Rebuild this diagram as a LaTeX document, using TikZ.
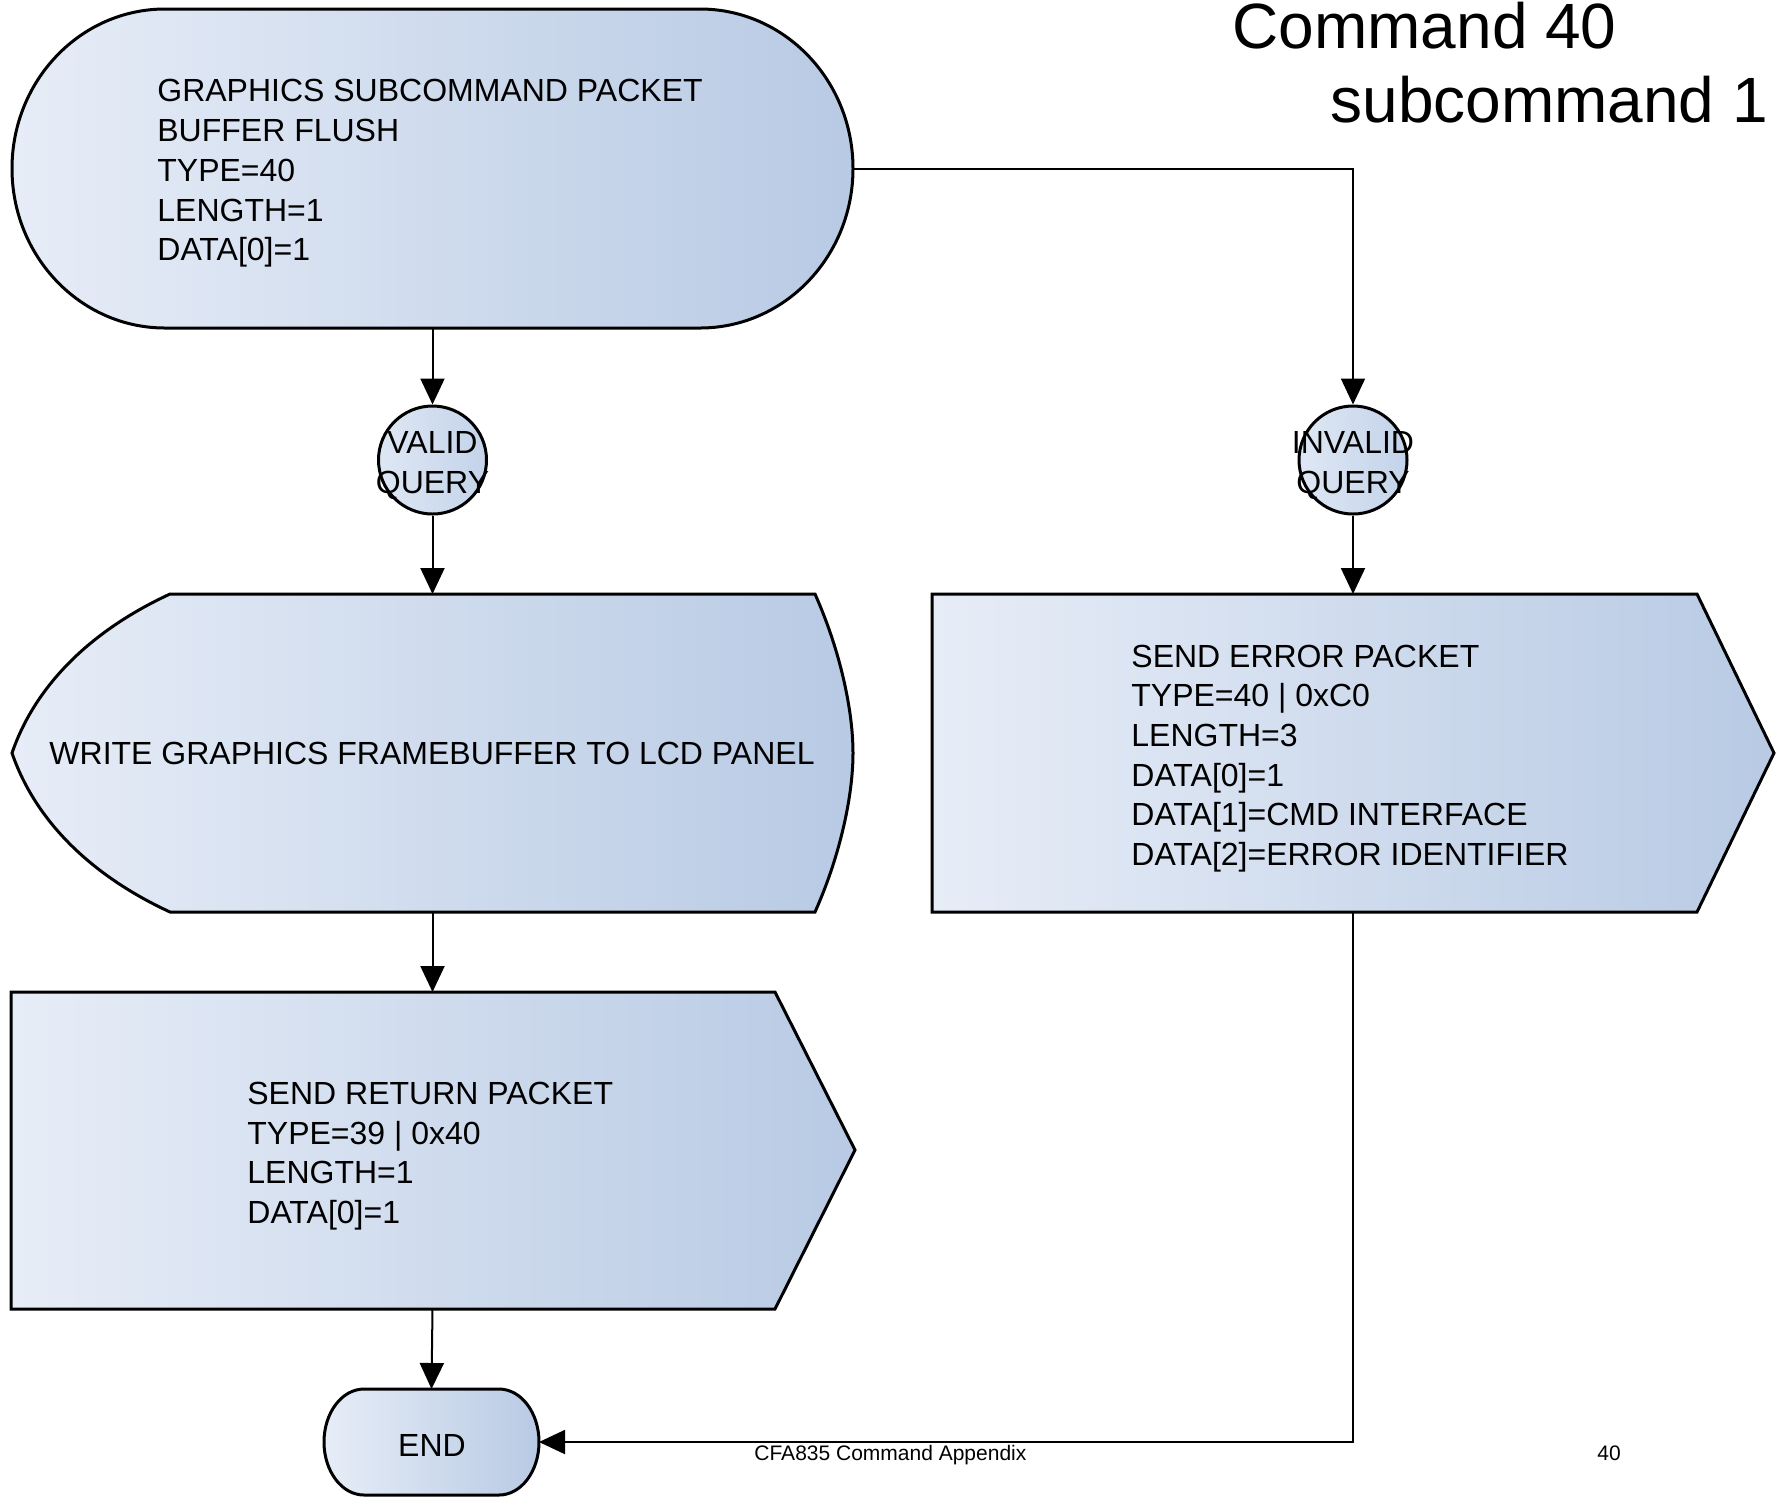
\documentclass[tikz,border=0pt]{standalone}
\usepackage{fontspec}
\setmainfont{Liberation Sans}
\usetikzlibrary{arrows.meta}
\definecolor{fillL}{RGB}{231,237,247}
\definecolor{fillR}{RGB}{184,202,228}
\definecolor{circL}{RGB}{222,231,244}
\definecolor{circR}{RGB}{196,211,234}
\tikzset{
  shapeline/.style={draw=black, line width=1.5pt, left color=fillL, right color=fillR},
  boxfit/.style={inner sep=0pt, outer sep=0pt},
  conn/.style={draw=black, line width=1pt, -{Triangle[length=13pt,width=12pt]}},
  maintext/.style={font=\fontsize{16}{19.85}\selectfont, align=left, inner sep=0pt},
  querycirc/.style={circle, draw=black, line width=1.5pt, left color=circL, right color=circR, minimum size=54pt, inner sep=0pt},
  titletext/.style={font=\fontsize{32}{37}\selectfont, anchor=base west, inner sep=0pt},
  foottext/.style={font=\fontsize{10.5}{12}\selectfont, anchor=base west, inner sep=0pt},
}
\begin{document}
\begin{tikzpicture}[x=0.5pt, y=-0.5pt]
\useasboundingbox (0,0) rectangle (1777,1496);
\fill[white] (0,0) rectangle (1777,1496);

% start terminal
\path[shapeline] (165,9) -- (700,9) .. controls (784.5,9) and (853,80.4) .. (853,168.5)
  .. controls (853,256.6) and (784.5,328) .. (700,328) -- (165,328)
  .. controls (80.5,328) and (12,256.6) .. (12,168.5)
  .. controls (12,80.4) and (80.5,9) .. (165,9) -- cycle;
\node[boxfit, minimum width=420.5pt, minimum height=159.5pt] (start) at (432.5,168.5) {};
\node[maintext, anchor=west] (starttxt) at (157,173.5) {GRAPHICS SUBCOMMAND PACKET\\BUFFER FLUSH\\TYPE=40\\LENGTH=1\\DATA[0]=1};

% query circles
\node[querycirc] (valid) at (432.5,460) {};
\node[maintext, align=center] (validtxt) at (432.5,465.5) {VALID\\QUERY};
\node[querycirc] (invalid) at (1353,460) {};
\node[maintext, align=center] (invalidtxt) at (1353,465.5) {INVALID\\QUERY};

% write display shape
\path[shapeline] (170,594) -- (815,594) .. controls (840,650) and (853,710) .. (853,753)
  .. controls (853,796) and (840,856) .. (815,912) -- (170,912)
  .. controls (90,875) and (35,820) .. (12,753)
  .. controls (35,686) and (90,631) .. (170,594) -- cycle;
\node[boxfit, minimum width=420.5pt, minimum height=159pt] (write) at (432.5,753) {};
\node[maintext] (writetxt) at (432,753) {WRITE GRAPHICS FRAMEBUFFER TO LCD PANEL};

% error packet
\path[shapeline] (932,594) -- (1697,594) -- (1774,753) -- (1697,912) -- (932,912) -- cycle;
\node[boxfit, minimum width=421pt, minimum height=159pt] (error) at (1353,753) {};
\node[maintext, anchor=west] (errortxt) at (1131,758.5) {SEND ERROR PACKET\\TYPE=40 | 0xC0\\LENGTH=3\\DATA[0]=1\\DATA[1]=CMD INTERFACE\\DATA[2]=ERROR IDENTIFIER};

% return packet
\path[shapeline] (11,992) -- (775,992) -- (855,1150) -- (775,1309) -- (11,1309) -- cycle;
\node[boxfit, minimum width=421pt, minimum height=158.5pt] (ret) at (432.5,1150.5) {};
\node[maintext, anchor=west] (rettxt) at (247,1156) {SEND RETURN PACKET\\TYPE=39 | 0x40\\LENGTH=1\\DATA[0]=1};

% end terminal
\path[shapeline] (364,1389) -- (499,1389) .. controls (521.1,1389) and (539,1412.7) .. (539,1442)
  .. controls (539,1471.3) and (521.1,1495) .. (499,1495) -- (364,1495)
  .. controls (341.9,1495) and (324,1471.3) .. (324,1442)
  .. controls (324,1412.7) and (341.9,1389) .. (364,1389) -- cycle;
\node[boxfit, minimum width=107.5pt, minimum height=53pt] (endn) at (431.5,1442) {};
\node[maintext] (endtxt) at (432,1445) {END};

% connectors
\draw[conn] (start.south) -- (valid.north);
\draw[conn] (valid.south) -- (write.north);
\draw[conn] (write.south) -- (ret.north);
\draw[conn] (ret.south) -- (endn.north);
\draw[conn] (start.east) -| (invalid.north);
\draw[conn] (invalid.south) -- (error.north);
\draw[conn] (error.south) |- (endn.east);

% title and footer
\node[titletext] (title1) at (1232,48) {Command 40};
\node[titletext] (title2) at (1330,122) {subcommand 1};
\node[foottext] (foot) at (754,1460) {CFA835 Command Appendix};
\node[foottext] (pagenum) at (1597,1460) {40};
\end{tikzpicture}
\end{document}
